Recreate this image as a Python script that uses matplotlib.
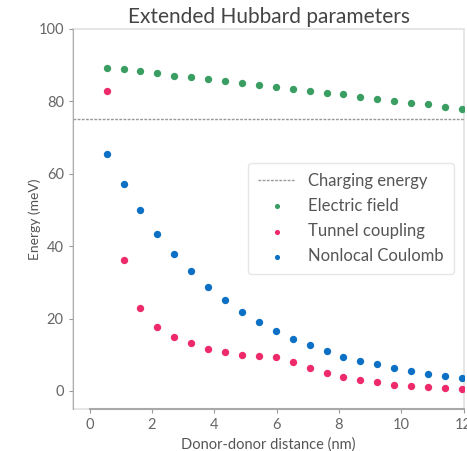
import numpy as np
import matplotlib
matplotlib.use("Agg")
import matplotlib.pyplot as plt
from matplotlib.patches import Rectangle

plt.rcParams['font.family'] = ['Lato', 'DejaVu Sans']

# donor positions: multiples of the Si lattice constant (nm)
site_index = np.arange(1, 23)
distance = 0.543 * site_index

charging_energy = 75.2

electric_field = [89.2, 88.8, 88.3, 87.8, 87.1, 86.6, 86.2, 85.7, 85.0, 84.4, 84.0,
                  83.4, 82.9, 82.3, 81.9, 81.3, 80.7, 80.2, 79.6, 79.2, 78.5, 78.0]
tunnel_coupling = [82.8, 36.3, 22.8, 17.8, 15.0, 13.2, 11.7, 10.8, 10.0, 9.7, 9.5,
                   8.0, 6.4, 5.0, 3.9, 3.0, 2.6, 1.7, 1.5, 1.0, 0.8, 0.6]
nonlocal_coulomb = [65.5, 57.2, 50.0, 43.4, 37.9, 33.1, 28.8, 25.2, 21.8, 19.1, 16.6,
                    14.4, 12.7, 10.9, 9.5, 8.3, 7.4, 6.4, 5.4, 4.7, 4.2, 3.7]

x_ticks = [0, 2, 4, 6, 8, 10, 12]
y_ticks = [0, 20, 40, 60, 80, 100]

green = '#3a9e62'
pink = '#ee2a6b'
blue = '#0c70c4'
txt = '#555555'

fig = plt.figure(figsize=(4.67, 4.51), dpi=100)
ax = fig.add_axes([0.156, 0.093, 0.838, 0.843])

ax.axhline(charging_energy, color='#999999', lw=1.0, ls=(0, (2, 1)), label='Charging energy')
ax.scatter(distance, electric_field, s=28, color=green, lw=0, label='Electric field')
ax.scatter(distance, tunnel_coupling, s=28, color=pink, lw=0, label='Tunnel coupling')
ax.scatter(distance, nonlocal_coulomb, s=28, color=blue, lw=0, label='Nonlocal Coulomb')

ax.set_xlim(-0.54, 12.02)
ax.set_ylim(-5, 100)
ax.set_xticks(x_ticks)
ax.set_yticks(y_ticks)

# light frame round the plot area
ax.add_patch(Rectangle((0, 0), 1, 1, transform=ax.transAxes, fill=False,
                       ec='#e2e2e2', lw=1.2, zorder=0, clip_on=False))
for s in ['top', 'right']:
    ax.spines[s].set_visible(False)
ax.spines['left'].set_color('#b0b0b0')
ax.spines['bottom'].set_color('#a8a8a8')
ax.spines['bottom'].set_linewidth(1.5)
ax.spines['bottom'].set_bounds(0, 12)

ax.tick_params(colors='#999999', labelcolor='#666666', labelsize=10.5, length=3, width=0.8)

ax.set_title('Extended Hubbard parameters', fontsize=15, color='#444444', pad=4)
ax.set_xlabel('Donor-donor distance (nm)', fontsize=10.5, color=txt, labelpad=4)
ax.set_ylabel('Energy (meV)', fontsize=10, color=txt, labelpad=-2)

leg = ax.legend(loc='upper right', bbox_to_anchor=(0.995, 0.67), fontsize=12,
                frameon=True, fancybox=True, edgecolor='#e0e0e0', labelspacing=0.55,
                handlelength=2.2, borderpad=0.6, markerscale=0.7)
for t in leg.get_texts():
    t.set_color(txt)

fig.savefig('out.png', dpi=100)
